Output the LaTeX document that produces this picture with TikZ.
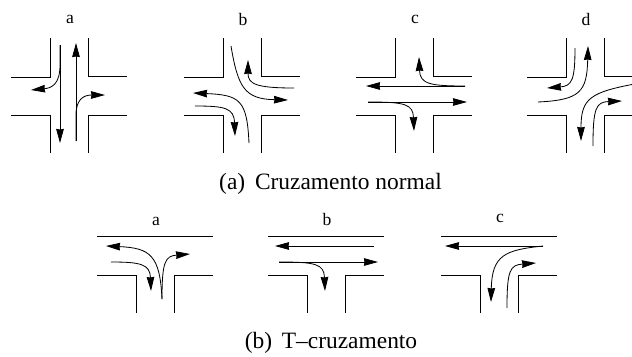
\documentclass[tikz,border=0pt]{standalone}
\usepackage{fontspec}
\setmainfont{Liberation Serif}
\usetikzlibrary{arrows.meta}
\tikzset{
  road/.style={line width=0.7pt},
  flow/.style={line width=0.7pt, -{Stealth[length=12pt,width=6.5pt,inset=0.5pt]}},
  panel/.style={font=\fontsize{15}{17}\selectfont},
  legend/.style={font=\fontsize{20}{23}\selectfont}
}
\begin{document}
\begin{tikzpicture}[x=0.03cm, y=-0.03cm]
\useasboundingbox (0,0) rectangle (632,356);
% cross roads
\foreach \cx/\lab/\name in {69/a/pa, 242/b/pb, 414/c/pc, 585/d/pd} {
  \draw[road] (\cx-58,77)--(\cx-19,77)--(\cx-19,38);
  \draw[road] (\cx+19,38)--(\cx+19,76)--(\cx+58,76);
  \draw[road] (\cx-58,115)--(\cx-19,115)--(\cx-19,153);
  \draw[road] (\cx+58,115)--(\cx+19,115)--(\cx+19,153);
  \node[panel] (\name) at (\cx+1,19) {\lab};
}
% T roads
\foreach \cx/\lab/\name/\ly in {155/a/ta/221, 326/b/tb/219, 499/c/tc/218} {
  \draw[road] (\cx-58,236)--(\cx+58,236);
  \draw[road] (\cx-58,275)--(\cx-19,275)--(\cx-19,313);
  \draw[road] (\cx+58,275)--(\cx+19,275)--(\cx+19,313);
  \node[panel] (\name) at (\cx+1,\ly) {\lab};
}
% cross a
\draw[flow] (60,45)--(60,143);
\draw[flow] (60,45)--(60,65) .. controls (60,84) and (52,88) .. (31,90);
\draw[flow] (76,141)--(76,43);
\draw[flow] (76,141)--(76,115) .. controls (76,100) and (83,95) .. (105,95);
% cross b
\draw[flow] (231,46) .. controls (238,88) and (245,99) .. (288,100);
\draw[flow] (294,88) .. controls (256,88) and (248,84) .. (248,60);
\draw[flow] (249,143) .. controls (247,100) and (240,95) .. (193,93);
\draw[flow] (195,106) .. controls (225,106) and (234,108) .. (235,136);
% cross c
\draw[flow] (465,86)--(366,86);
\draw[flow] (465,86) .. controls (430,86) and (420,84) .. (419,57);
\draw[flow] (368,102)--(467,102);
\draw[flow] (368,102) .. controls (405,102) and (413,104) .. (414,131);
% cross d
\draw[flow] (575,48) .. controls (575,80) and (572,86) .. (547,88);
\draw[flow] (538,102) .. controls (580,100) and (587,92) .. (588,46);
\draw[flow] (640,83) .. controls (590,92) and (581,98) .. (581,141);
\draw[flow] (593,146) .. controls (593,108) and (596,102) .. (622,101);
% T a
\draw[flow] (162,299) .. controls (160,255) and (150,248) .. (106,246);
\draw[flow] (162,299) .. controls (162,262) and (165,256) .. (190,254);
\draw[flow] (111,262) .. controls (140,262) and (150,264) .. (151,291);
% T b
\draw[flow] (374,246)--(275,246);
\draw[flow] (279,262)--(378,262);
\draw[flow] (279,262) .. controls (316,262) and (324,264) .. (325,291);
% T c
\draw[flow] (543,246) .. controls (505,250) and (492,255) .. (491,302);
\draw[flow] (543,246)--(445,246);
\draw[flow] (507,308) .. controls (507,270) and (510,265) .. (536,263);
% captions
\node[legend] (capa) at (330.5,184) {(a)\, Cruzamento normal};
\node[legend] (capb) at (331,343) {(b)\, T--cruzamento};
\end{tikzpicture}
\end{document}
